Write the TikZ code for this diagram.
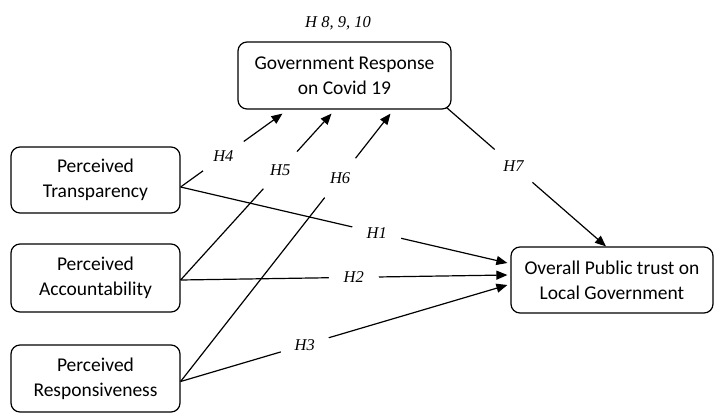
\documentclass[tikz,border=0pt]{standalone}
\usepackage{fontspec}
\setmainfont{Carlito}
\newfontfamily\hypfont{Liberation Serif}
\usetikzlibrary{arrows.meta}
\tikzstyle{block}=[draw=black,line width=1.2pt,rounded corners=9pt,align=center,inner sep=0pt,font=\fontsize{19.5}{25}\selectfont]
\tikzstyle{hyptext}=[font=\hypfont\itshape\fontsize{16.5}{18}\selectfont]
\tikzstyle{hyp}=[hyptext,circle,fill=white,inner sep=0pt,minimum size=50pt]
\tikzstyle{link}=[line width=1.2pt,-{Triangle[length=11pt,width=9pt]}]

\begin{document}
\begin{tikzpicture}[x=1pt,y=-1pt]
    \useasboundingbox (0,0) rectangle (714,412);
    \node[block,minimum width=213pt,minimum height=67pt] (gov) at (344.5,75.5) {Government Response\\on Covid 19};
    \node[hyptext] (hyps) at (338,23) {H 8, 9, 10};
    \node[block,minimum width=169pt,minimum height=66pt] (tra) at (95.5,180) {Perceived\\Transparency};
    \node[block,minimum width=169pt,minimum height=68pt] (acc) at (95.5,278) {Perceived\\Accountability};
    \node[block,minimum width=169pt,minimum height=67pt] (res) at (95.5,378.5) {Perceived\\Responsiveness};
    \node[block,minimum width=202pt,minimum height=66pt] (trust) at (612,280) {Overall Public trust on\\Local Government};

    \draw[link] ([yshift=-7pt]tra.east) -- node[hyp,pos=0.42] {H4} ([xshift=-62pt,yshift=-4pt]gov.south);
    \draw[link] ([yshift=-2pt]acc.east) -- node[hyp,pos=0.66] {H5} ([xshift=-13pt,yshift=-4pt]gov.south);
    \draw[link] ([yshift=-3pt]res.east) -- node[hyp,pos=0.76] {H6} ([xshift=46pt,yshift=-4pt]gov.south);
    \draw[link] ([xshift=-5pt,yshift=2pt]gov.south east) -- node[hyp,pos=0.42] {H7} ([xshift=-6pt]trust.north);
    \draw[link] ([yshift=-7pt]tra.east) -- node[hyp,pos=0.60] {H1} ([xshift=-3pt,yshift=17pt]trust.west);
    \draw[link] ([yshift=-2pt]acc.east) -- node[hyp,pos=0.53] {H2} ([xshift=-3pt,yshift=5pt]trust.west);
    \draw[link] ([yshift=-3pt]res.east) -- node[hyp,pos=0.38] {H3} ([xshift=-3pt,yshift=-5pt]trust.west);
\end{tikzpicture}
\end{document}
